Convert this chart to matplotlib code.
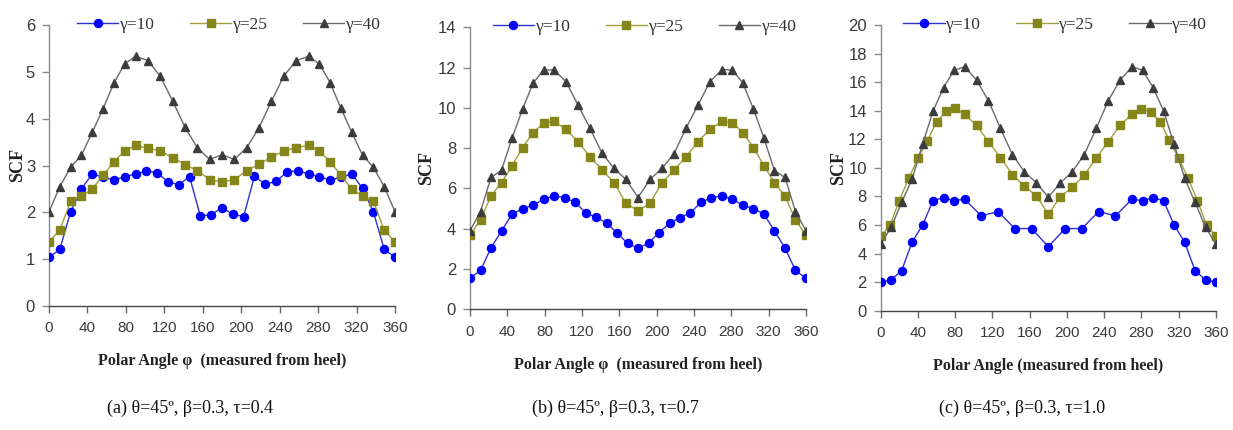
import matplotlib
matplotlib.use("Agg")
import matplotlib.pyplot as plt

# ---------------- data ----------------
# polar angle grids (degrees) used by the different series
ang_11 = [0, 11.25, 22.5, 33.75, 45, 56.25, 67.5, 78.75, 90, 101.25, 112.5, 123.75,
          135, 146.25, 157.5, 168.75, 180, 191.25, 202.5, 213.75, 225, 236.25, 247.5,
          258.75, 270, 281.25, 292.5, 303.75, 315, 326.25, 337.5, 348.75, 360]
ang_mix = [0, 11.25, 22.5, 33.75, 45, 56.25, 67.5, 78.75, 90, 102.86, 115.71, 128.57,
           141.43, 154.29, 167.14, 180, 192.86, 205.71, 218.57, 231.43, 244.29, 257.14,
           270, 281.25, 292.5, 303.75, 315, 326.25, 337.5, 348.75, 360]
ang_10 = [0, 10, 20, 30, 40, 50, 60, 70, 80, 90, 102.86, 115.71, 128.57, 141.43, 154.29,
          167.14, 180, 192.86, 205.71, 218.57, 231.43, 244.29, 257.14, 270, 280, 290,
          300, 310, 320, 330, 340, 350, 360]
ang_18 = [0, 11.25, 22.5, 33.75, 45, 56.25, 67.5, 78.75, 90, 108, 126, 144, 162, 180,
          198, 216, 234, 252, 270, 281.25, 292.5, 303.75, 315, 326.25, 337.5, 348.75, 360]

# (a) tau = 0.4
a_g10 = [1.04, 1.21, 2.01, 2.50, 2.82, 2.75, 2.69, 2.76, 2.82, 2.88, 2.85, 2.65, 2.59,
         2.76, 1.92, 1.95, 2.10, 1.96, 1.91, 2.77, 2.60, 2.66, 2.86, 2.89, 2.82, 2.76,
         2.69, 2.75, 2.82, 2.51, 2.01, 1.21, 1.04]
a_g25 = [1.37, 1.62, 2.24, 2.34, 2.50, 2.79, 3.08, 3.31, 3.43, 3.37, 3.31, 3.17, 3.02,
         2.89, 2.70, 2.65, 2.70, 2.89, 3.03, 3.18, 3.31, 3.38, 3.43, 3.31, 3.08, 2.79,
         2.50, 2.34, 2.24, 1.62, 1.37]
a_g40 = [2.01, 2.55, 2.96, 3.22, 3.71, 4.21, 4.76, 5.17, 5.33, 5.24, 4.91, 4.38, 3.82,
         3.38, 3.13, 3.23, 3.13, 3.38, 3.81, 4.37, 4.91, 5.24, 5.33, 5.17, 4.77, 4.22,
         3.71, 3.22, 2.96, 2.55, 2.01]

# (b) tau = 0.7
b_g10 = [1.54, 1.93, 3.05, 3.89, 4.72, 5.00, 5.16, 5.46, 5.63, 5.55, 5.32, 4.80, 4.57,
         4.28, 3.80, 3.27, 3.03, 3.28, 3.81, 4.27, 4.55, 4.80, 5.31, 5.54, 5.63, 5.46,
         5.16, 5.00, 4.72, 3.89, 3.04, 1.93, 1.54]
b_g25 = [3.69, 4.43, 5.63, 6.29, 7.12, 8.03, 8.77, 9.24, 9.33, 8.94, 8.32, 7.58, 6.92,
         6.29, 5.26, 4.90, 5.26, 6.29, 6.90, 7.58, 8.32, 8.94, 9.33, 9.27, 8.77, 8.03,
         7.12, 6.29, 5.63, 4.43, 3.69]
b_g40 = [3.90, 4.85, 6.55, 6.90, 8.49, 9.93, 11.22, 11.88, 11.88, 11.30, 10.14, 8.99,
         7.75, 7.00, 6.45, 5.55, 6.45, 7.00, 7.72, 8.99, 10.14, 11.30, 11.90, 11.88,
         11.22, 9.93, 8.49, 6.88, 6.55, 4.85, 3.90]

# (c) tau = 1.0
c_g10 = [1.98, 2.16, 2.81, 4.81, 6.00, 7.71, 7.91, 7.70, 7.81, 6.64, 6.94, 5.75, 5.75,
         4.48, 5.75, 5.75, 6.94, 6.64, 7.81, 7.70, 7.91, 7.70, 6.00, 4.81, 2.81, 2.16, 1.98]
c_g25 = [5.20, 5.97, 7.71, 9.26, 10.66, 11.89, 13.21, 13.95, 14.19, 13.75, 12.98, 11.84,
         10.72, 9.53, 8.70, 8.06, 6.75, 7.99, 8.64, 9.50, 10.68, 11.84, 12.98, 13.77,
         14.15, 13.94, 13.21, 11.93, 10.66, 9.28, 7.71, 5.97, 5.20]
c_g40 = [4.64, 5.85, 7.59, 9.22, 11.66, 13.98, 15.62, 16.83, 17.08, 16.15, 14.70, 12.76,
         10.93, 9.72, 8.95, 7.95, 8.95, 9.72, 10.93, 12.76, 14.70, 16.15, 17.08, 16.83,
         15.62, 13.98, 11.66, 9.28, 7.59, 5.85, 4.64]

series_labels = ["γ=10", "γ=25", "γ=40"]
x_ticks = [0, 40, 80, 120, 160, 200, 240, 280, 320, 360]
xlabels = ["Polar Angle φ  (measured from heel)",
           "Polar Angle φ  (measured from heel)",
           "Polar Angle (measured from heel)"]
captions = ["(a) θ=45º, β=0.3, τ=0.4", "(b) θ=45º, β=0.3, τ=0.7", "(c) θ=45º, β=0.3, τ=1.0"]
y_max = [6, 14, 20]
y_step = [1, 2, 2]

panels = [
    [(ang_11, a_g10), (ang_mix, a_g25), (ang_mix, a_g40)],
    [(ang_11, b_g10), (ang_mix, b_g25), (ang_mix, b_g40)],
    [(ang_18, c_g10), (ang_10, c_g25), (ang_mix, c_g40)],
]

# ---------------- style ----------------
W, H = 1233, 430
fig = plt.figure(figsize=(W / 100, H / 100), dpi=100)

boxes = [  # left, bottom, right, top in pixels
    (49, 306, 395, 25),
    (470, 309.3, 806, 27.3),
    (880.7, 310.7, 1216, 25),
]
line_cols = ["#3030D0", "#A0A040", "#6A6A6A"]
mk_cols = ["#0000FF", "#85851A", "#3C3C3C"]
markers = ["o", "s", "^"]
msizes = [5.8, 5.4, 6.2]

serif = ["Liberation Serif", "DejaVu Serif"]
sans = ["Liberation Sans", "DejaVu Sans"]
cap_x = [190, 615, 1022]
scf_x = [18, 427, 839]

for i, (l, b, r, t) in enumerate(boxes):
    ax = fig.add_axes([l / W, 1 - b / H, (r - l) / W, (b - t) / H])
    for j, (xs, ys) in enumerate(panels[i]):
        ax.plot(xs, ys, color=line_cols[j], lw=1.0, marker=markers[j], ms=msizes[j],
                mfc=mk_cols[j], mec=mk_cols[j], label=series_labels[j], zorder=3 + j)
    ax.set_xlim(0, 360)
    ax.set_ylim(0, y_max[i])
    ax.set_xticks(x_ticks)
    ax.set_yticks(range(0, y_max[i] + 1, y_step[i]))
    ax.spines["top"].set_visible(False)
    ax.spines["right"].set_visible(False)
    ax.spines["left"].set_color("#8A8A8A")
    ax.spines["bottom"].set_color("#444444")
    ax.spines["left"].set_linewidth(1.0)
    ax.spines["bottom"].set_linewidth(1.0)
    ax.tick_params(axis="y", direction="out", length=5, width=1, color="#8A8A8A",
                   labelsize=12, labelcolor="#3A3A3A", pad=5)
    ax.tick_params(axis="x", direction="out", length=5, width=1, color="#666666",
                   labelsize=11, labelcolor="#3A3A3A", pad=6)
    for lab in ax.get_xticklabels() + ax.get_yticklabels():
        lab.set_family(sans)
    ax.set_xlabel(xlabels[i], family=serif, fontweight="bold", fontsize=11.5,
                  color="#222222", labelpad=13)
    ax.set_ylabel("SCF", family=serif, fontweight="bold", fontsize=13,
                  color="#222222", va="center")
    ax.yaxis.set_label_coords((scf_x[i] - l) / (r - l), 0.5)
    ax.set_facecolor("none")
    leg = ax.legend(loc="center", bbox_to_anchor=(0.52, 1.0), ncol=3, frameon=False,
                    handlelength=2.4, handletextpad=0.1, columnspacing=2.0,
                    prop={"family": serif, "size": 12.5}, borderaxespad=0)
    for txt in leg.get_texts():
        txt.set_color("#333333")
    fig.text(cap_x[i] / W, 1 - 408 / H, captions[i], family=serif, fontsize=13,
             ha="center", va="center", color="#111111")

fig.savefig("out.png", dpi=100)
